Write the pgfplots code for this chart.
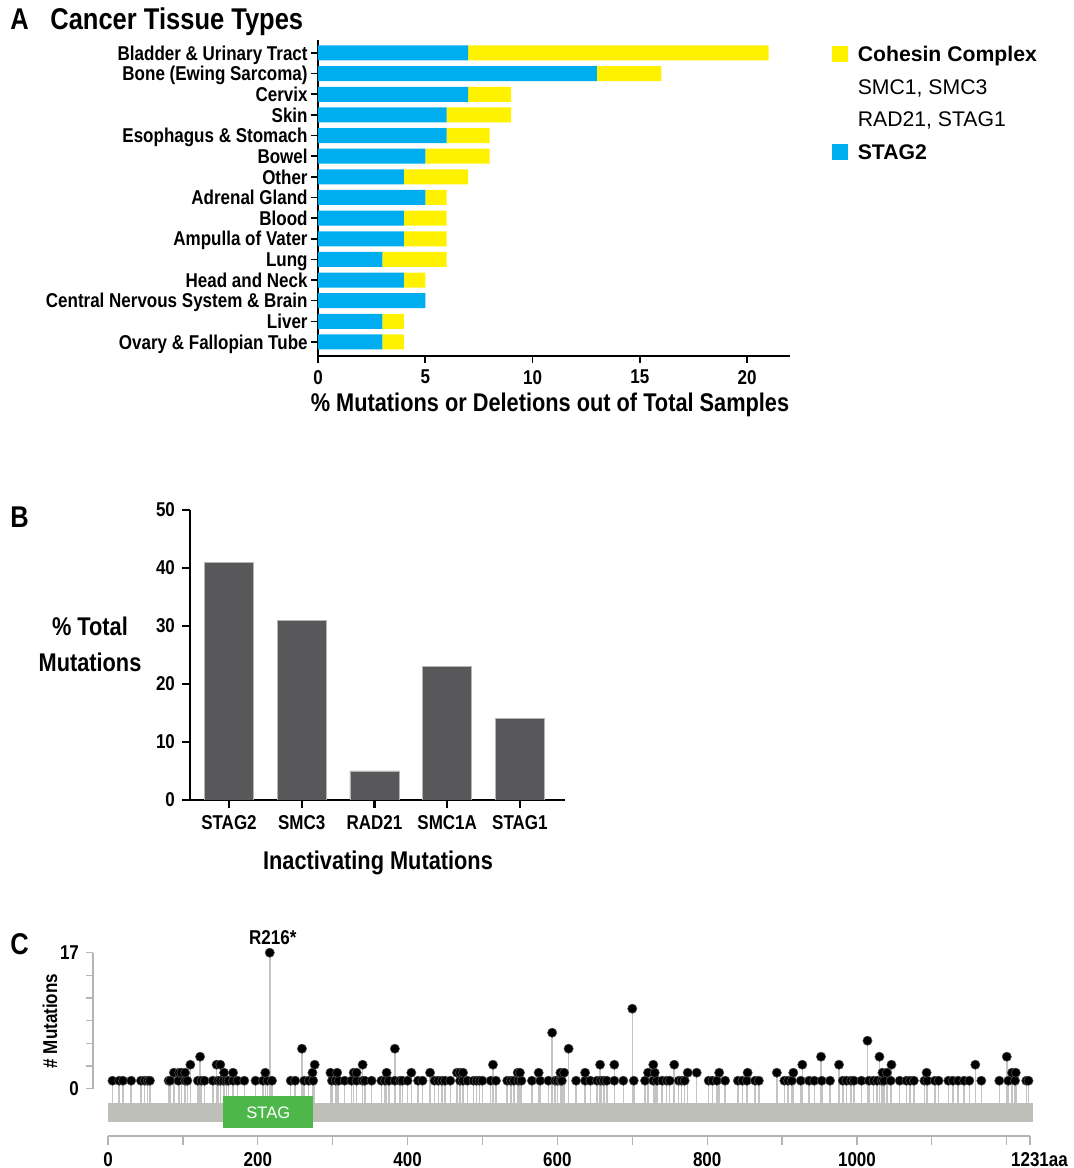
\documentclass[border=0pt]{standalone}
\usepackage{pgfplots}
\pgfplotsset{compat=1.18}
\usepackage{pgfplotstable}
\usepackage{fontspec}
\setmainfont{Liberation Sans}
\newfontfamily\cond{Liberation Sans}[FakeStretch=0.85]

\definecolor{cblue}{HTML}{00AEEF}
\definecolor{cyellow}{HTML}{FFF200}
\definecolor{bgray}{HTML}{58585A}
\definecolor{protgray}{HTML}{BDBFB8}
\definecolor{domgreen}{HTML}{4DB849}
\definecolor{stemgray}{HTML}{C4C4C4}
\definecolor{axgray}{HTML}{B4B4B4}

\pgfplotstableread{
x c
6 1
15 1
20 1
31 1
44 1
49 1
53 1
56 1
81 1
83 1
94 1
103 1
106 1
120 1
125 1
129 1
140 1
147 1
150 1
154 1
158 1
161 1
167 1
173 1
182 1
197 1
207 1
213 1
219 1
88 2
95 2
98 2
103 2
155 2
167 2
210 2
110 3
145 3
150 3
123 4
216 17
244 1
250 1
262 1
268 1
274 1
299 1
304 1
308 1
316 1
325 1
332 1
340 1
343 1
352 1
365 1
370 1
375 1
383 1
390 1
393 1
400 1
414 1
420 1
436 1
441 1
446 1
450 1
457 1
470 1
474 1
480 1
488 1
297 2
306 2
328 2
332 2
372 2
405 2
430 2
466 2
470 2
474 2
273 2
276 3
340 3
259 5
383 5
492 1
496 1
500 1
511 1
518 1
533 1
538 1
542 1
548 1
552 1
566 1
577 1
588 1
597 1
600 1
604 1
606 1
625 1
637 1
644 1
653 1
658 1
662 1
666 1
676 1
688 1
702 1
717 1
728 1
733 1
547 2
550 2
575 2
604 2
609 2
637 2
721 2
730 2
514 3
657 3
676 3
728 3
593 7
615 5
700 10
740 1
746 1
750 1
762 1
766 1
770 1
802 1
807 1
813 1
824 1
841 1
847 1
853 1
864 1
869 1
903 1
908 1
913 1
925 1
936 1
943 1
953 1
964 1
981 1
774 2
786 2
816 2
854 2
893 2
915 2
756 3
927 3
976 3
952 4
986 1
992 1
996 1
1006 1
1016 1
1022 1
1027 1
1033 1
1036 1
1045 1
1057 1
1066 1
1071 1
1076 1
1090 1
1094 1
1104 1
1109 1
1122 1
1128 1
1135 1
1143 1
1150 1
1166 1
1190 1
1202 1
1211 1
1226 1
1229 1
1034 2
1040 2
1093 2
1207 2
1212 2
1046 3
1158 3
1030 4
1200 4
1014 6
}\lolli

\pgfplotsset{
  base/.style={
    scale only axis, anchor=south west,
    tick label style={font=\cond\bfseries\fontsize{10}{12}\selectfont, black},
    /pgf/number format/assume math mode=true,
    tick align=outside,
  }
}

\begin{document}
\begin{tikzpicture}
\path[use as bounding box] (0,0) rectangle (536.5pt,584pt);

% ---------------- Panel A ----------------
\node[anchor=base west, font=\cond\bfseries\fontsize{15}{18}\selectfont, inner sep=0pt] at (5pt,569pt) {A};
\node[anchor=base west, font=\cond\bfseries\fontsize{15}{18}\selectfont, inner sep=0pt] at (25pt,569pt) {Cancer Tissue Types};

\begin{axis}[base,
  at={(159pt,406pt)}, width=236pt, height=158pt,
  xbar stacked, bar width=7.5pt,
  xmin=0, xmax=22, ymin=-0.68, ymax=14.63,
  axis x line*=bottom, axis y line*=left,
  axis line style={line width=1pt, -},
  tick style={line width=0.8pt, black},
  major tick length=3.5pt,
  xtick={0,5,10,15,20}, ytick={0,...,14},
  yticklabels={Ovary \& Fallopian Tube, Liver, Central Nervous System \& Brain, Head and Neck, Lung, Ampulla of Vater, Blood, Adrenal Gland, Other, Bowel, Esophagus \& Stomach, Skin, Cervix, Bone (Ewing Sarcoma), Bladder \& Urinary Tract},
  yticklabel style={inner sep=1.5pt, text height=7.2pt, text depth=0pt},
  legend style={at={(axis description cs:1.089,0.981)}, anchor=north west,
    draw=none, fill=none, inner sep=0pt, outer sep=0pt, row sep=8.6pt,
    font=\fontsize{10.6}{12}\selectfont,
    nodes={inner sep=0pt, text height=7.7pt, text depth=0pt},
    /tikz/every odd column/.append style={column sep=5pt}},
  legend cell align=left,
]
\addplot[fill=cblue, draw=none, forget plot] coordinates {
 (3,0) (3,1) (5,2) (4,3) (3,4) (4,5) (4,6) (5,7) (4,8) (5,9) (6,10) (6,11) (7,12) (13,13) (7,14)};
\addplot[fill=cyellow, draw=none, forget plot] coordinates {
 (1,0) (1,1) (0,2) (1,3) (3,4) (2,5) (2,6) (1,7) (3,8) (3,9) (2,10) (3,11) (2,12) (3,13) (14,14)};
\addlegendimage{legend image code/.code={\fill[cyellow] (0pt,-3.75pt) rectangle (7.5pt,3.75pt);}}
\addlegendentry{\bfseries Cohesin Complex}
\addlegendimage{empty legend}
\addlegendentry{SMC1, SMC3}
\addlegendimage{empty legend}
\addlegendentry{RAD21, STAG1}
\addlegendimage{legend image code/.code={\fill[cblue] (0pt,-3.75pt) rectangle (7.5pt,3.75pt);}}
\addlegendentry{\bfseries STAG2}
\end{axis}
\node[anchor=base, font=\cond\bfseries\fontsize{12.8}{15}\selectfont, inner sep=0pt] at (275pt,378pt) {\% Mutations or Deletions out of Total Samples};

% ---------------- Panel B ----------------
\node[anchor=base west, font=\cond\bfseries\fontsize{15}{18}\selectfont, inner sep=0pt] at (5pt,320pt) {B};
\begin{axis}[base,
  at={(95pt,184pt)}, width=187.5pt, height=145pt,
  ybar, bar width=24.5pt,
  ymin=0, ymax=50, xmin=-0.536, xmax=4.62,
  axis x line*=bottom, axis y line*=left,
  axis line style={line width=1.2pt, -},
  tick style={line width=1.2pt, black},
  major tick length=4pt,
  xtick={0,...,4}, xticklabels={STAG2,SMC3,RAD21,SMC1A,STAG1},
  ytick={0,10,...,50},
]
\addplot[fill=bgray, draw=axgray, line width=0.4pt] coordinates {(0,41) (1,31) (2,5) (3,23) (4,14)};
\end{axis}
\node[align=center, font=\cond\bfseries\fontsize{12.8}{18}\selectfont, inner sep=0pt] at (45pt,262pt) {\% Total\\Mutations};
\node[anchor=base, font=\cond\bfseries\fontsize{12.8}{15}\selectfont, inner sep=0pt] at (189pt,149pt) {Inactivating Mutations};

% ---------------- Panel C ----------------
\node[anchor=base west, font=\cond\bfseries\fontsize{15}{18}\selectfont, inner sep=0pt] at (5pt,106.5pt) {C};
\begin{axis}[base,
  at={(46.5pt,39.65pt)}, width=470pt, height=68pt,
  xmin=-20, xmax=1235, ymin=0, ymax=17, clip=false,
  axis x line=none, axis y line*=left,
  axis line style={axgray, line width=0.6pt, -},
  tick style={axgray, line width=0.6pt},
  major tick length=3.5pt,
  ytick={0,2.8333,5.6667,8.5,11.3333,14.1667,17},
  yticklabels={0,,,,,,17},
]
\addplot[fill=protgray, draw=none] coordinates {(0,-1.8) (1235,-1.8) (1235,-4.16) (0,-4.16)} -- cycle;
\addplot[draw=none, mark=none, error bars/.cd, y dir=minus, y explicit,
  error bar style={draw=stemgray, line width=0.75pt}, error mark=none]
  table[x=x, y=c, y error expr=\thisrow{c}+1.8] {\lolli};
\addplot[fill=domgreen, draw=none] coordinates {(154,-0.875) (274,-0.875) (274,-4.95) (154,-4.95)} -- cycle;
\node[text=white, font=\fontsize{8.3}{10}\selectfont] at (axis cs:214,-2.95) {STAG};
\addplot[only marks, mark=*, mark size=2.3pt, mark options={fill=black, draw=black!70, line width=0.3pt}]
  table[x=x, y=c] {\lolli};
\node[anchor=base, font=\cond\bfseries\fontsize{10}{12}\selectfont, inner sep=0pt] at (axis cs:220,18.0) {R216*};
\end{axis}
\node[rotate=90, font=\cond\bfseries\fontsize{10}{12}\selectfont, inner sep=0pt] at (25pt,73.5pt) {\# Mutations};

\begin{axis}[base,
  at={(54pt,16pt)}, width=461pt, height=5pt,
  xmin=0, xmax=1231, ymin=0, ymax=1,
  axis x line*=bottom, axis y line=none,
  axis line style={axgray, line width=0.6pt, -},
  tick style={axgray, line width=0.6pt},
  major tick length=4.5pt,
  xtick={0,100,200,300,400,500,600,700,800,900,1000,1100,1200,1231},
  xticklabels={0,,200,,400,,600,,800,,1000,,,1231\rlap{aa}},
]
\end{axis}
\end{tikzpicture}
\end{document}
